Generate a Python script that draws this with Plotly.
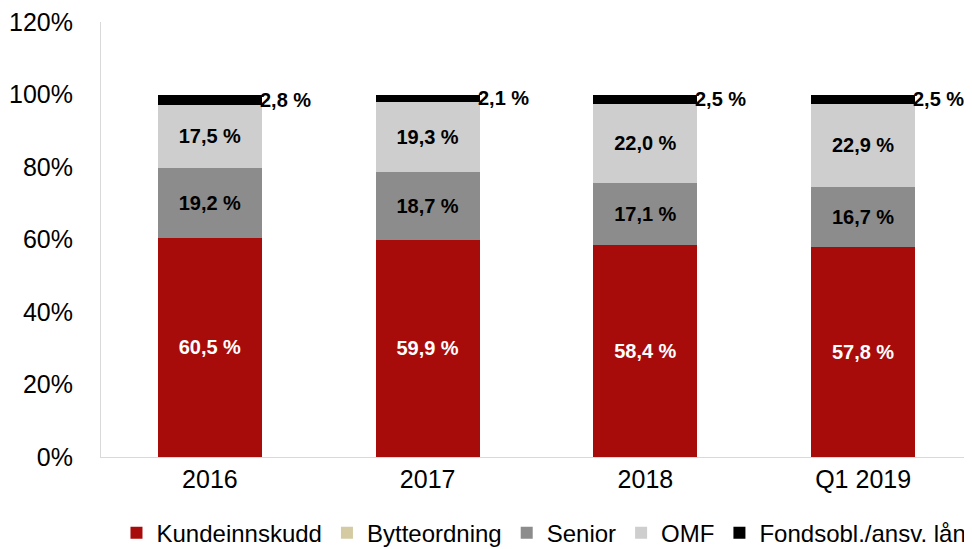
import plotly.graph_objects as go

categories = ["2016", "2017", "2018", "Q1 2019"]
kundeinnskudd = [60.5, 59.9, 58.4, 57.8]
bytteordning = [0.0, 0.0, 0.0, 0.0]
senior = [19.2, 18.7, 17.1, 16.7]
omf = [17.5, 19.3, 22.0, 22.9]
fondsobl = [2.8, 2.1, 2.5, 2.5]
y_ticks = [0, 20, 40, 60, 80, 100, 120]
y_tick_labels = ["0%", "20%", "40%", "60%", "80%", "100%", "120%"]


def fmt(v):
    return f"{v:.1f}".replace(".", ",") + " %"


FONT = "Liberation Sans, Arial, sans-serif"

series = [
    ("Kundeinnskudd", kundeinnskudd, "#A80C0A", "white", True),
    ("Bytteordning", bytteordning, "#D4CBA3", "black", False),
    ("Senior", senior, "#8C8C8C", "black", True),
    ("OMF", omf, "#CECECE", "black", True),
    ("Fondsobl./ansv. lån", fondsobl, "#000000", "black", False),
]

fig = go.Figure()
for name, vals, color, tcolor, show_text in series:
    fig.add_trace(go.Bar(
        x=categories, y=vals, name=name,
        marker=dict(color=color, line=dict(width=0)),
        text=[fmt(v) for v in vals] if show_text else None,
        textposition="inside" if show_text else "none",
        insidetextanchor="middle",
        textangle=0,
        textfont=dict(family=FONT, size=20, color=tcolor, weight="bold"),
        hoverinfo="skip",
    ))

# labels for the thin black top segment, placed right of the bar
for i, cat in enumerate(categories):
    total = kundeinnskudd[i] + bytteordning[i] + senior[i] + omf[i] + fondsobl[i]
    fig.add_annotation(
        x=i, y=total - fondsobl[i] / 2, xref="x", yref="y",
        text=f"<b>{fmt(fondsobl[i])}</b>", showarrow=False,
        xanchor="left", yanchor="middle", xshift=48,
        font=dict(family=FONT, size=20, color="black"),
    )

fig.update_layout(
    barmode="stack",
    bargap=0.523,
    width=964, height=541,
    margin=dict(l=93, r=0, t=14, b=92, autoexpand=False),
    paper_bgcolor="white", plot_bgcolor="white",
    font=dict(family=FONT, size=24, color="black"),
    showlegend=True,
    legend=dict(
        orientation="h", x=0.556, xanchor="center", xref="container",
        y=-0.175, yanchor="middle", yref="paper",
        font=dict(family=FONT, size=24, color="black"),
        itemwidth=30, tracegroupgap=0, traceorder="normal",
    ),
    uniformtext=dict(minsize=8, mode="show"),
)
fig.update_xaxes(
    type="category", range=[-0.5, 3.5], automargin=False,
    showline=True, linecolor="#D9D9D9", linewidth=1,
    showgrid=False, ticks="", tickfont=dict(size=25),
)
fig.update_yaxes(
    range=[0, 120], tickvals=y_ticks, ticktext=y_tick_labels, automargin=False,
    showline=True, linecolor="#D9D9D9", linewidth=1,
    showgrid=False, zeroline=False, ticks="", tickfont=dict(size=25),
    ticklabelstandoff=22, ticklabeloverflow="allow",
)

fig.write_html("out.html")
